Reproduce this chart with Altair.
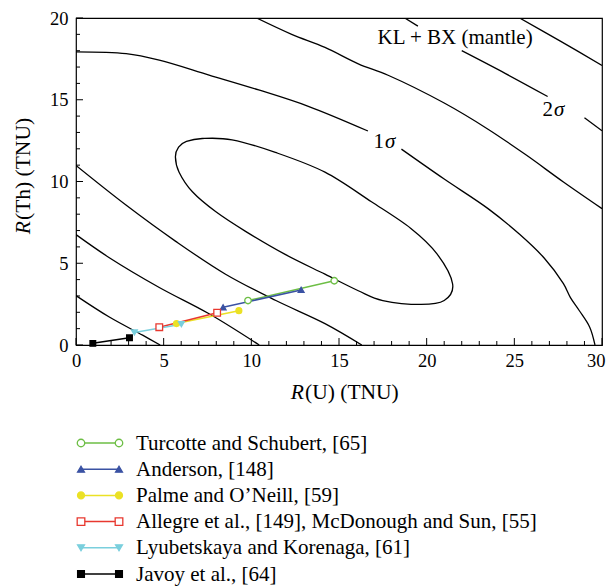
import altair as alt
import pandas as pd

# ---------------- data ----------------
X_MAJOR = [0, 5, 10, 15, 20, 25, 30]
X_MINOR = [1, 2, 3, 4, 6, 7, 8, 9, 11, 12, 13, 14, 16, 17, 18, 19, 21, 22, 23, 24, 26, 27, 28, 29]
Y_MAJOR = [0, 5, 10, 15, 20]
Y_MINOR = [1, 2, 3, 4, 6, 7, 8, 9, 11, 12, 13, 14, 16, 17, 18, 19]

# inner closed contour
ELLIPSE_U = [5.67, 5.85, 6.3, 7.2, 8.9, 11.37, 14.2, 16.85, 19.1, 20.6, 21.48, 21.0, 19.69, 17.5, 16.1, 14.2, 11.93, 9.67, 7.96, 6.64, 5.88]
ELLIPSE_TH = [11.5, 12.1, 12.45, 12.63, 12.55, 11.78, 10.57, 8.76, 7.13, 5.56, 3.73, 2.72, 2.48, 2.72, 3.32, 4.33, 5.54, 6.95, 8.16, 9.37, 10.57]

# open contour pieces (gaps where labels sit)
S1_UP_A_U = [0.0, 2.86, 4.75, 7.59, 10.42, 13.25, 16.65]
S1_UP_A_TH = [17.93, 17.82, 17.42, 16.51, 15.6, 14.6, 13.09]
S1_UP_B_U = [18.56, 21.0, 23.5, 25.3, 26.7, 27.8, 28.2, 28.7, 29.3, 29.6]
S1_UP_B_TH = [11.98, 10.15, 8.34, 6.77, 5.32, 3.75, 2.9, 2.11, 1.09, 0.0]
S1_LOW_U = [0.0, 2.85, 5.69, 8.53, 11.4, 14.2, 16.3]
S1_LOW_TH = [10.98, 8.56, 6.34, 4.33, 2.72, 1.31, 0.0]
C3_U = [10.3, 12.3, 14.2, 16.1, 17.8, 21.0, 23.5, 25.7, 27.8, 30.0]
C3_TH = [20.0, 19.0, 18.2, 17.2, 16.5, 14.8, 13.2, 11.6, 9.97, 8.34]
L2_U = [0.0, 1.9, 4.75, 7.59, 10.45]
L2_TH = [6.75, 5.34, 3.52, 1.91, 0.0]
S2_A_U = [18.75, 19.5]
S2_A_TH = [20.0, 19.5]
S2_B_U = [22.0, 24.5, 26.9]
S2_B_TH = [18.0, 16.6, 15.2]
S2_C_U = [29.0, 30.0]
S2_C_TH = [13.9, 13.1]
L3_U = [0.0, 1.9, 3.8, 4.8]
L3_TH = [3.02, 1.71, 0.6, 0.0]
C5_U = [25.3, 27.6, 30.0]
C5_TH = [20.0, 18.6, 17.1]

MODEL_NAMES = [
    "Turcotte and Schubert, [65]",
    "Anderson, [148]",
    "Palme and O\u2019Neill, [59]",
    "Allegre et al., [149], McDonough and Sun, [55]",
    "Lyubetskaya and Korenaga, [61]",
    "Javoy et al., [64]",
]
MODEL_U_LOW = [9.81, 8.39, 5.73, 4.75, 3.33, 0.96]
MODEL_TH_LOW = [2.72, 2.31, 1.31, 1.09, 0.77, 0.10]
MODEL_U_HIGH = [14.73, 12.84, 9.29, 8.05, 6.01, 3.05]
MODEL_TH_HIGH = [3.93, 3.37, 2.10, 1.97, 1.27, 0.44]

ANNOT_TEXT = ["KL + BX (mantle)"]
ANNOT_U = [21.62]
ANNOT_TH = [18.39]
SIGMA_DIGITS = ["1", "2"]
SIGMA_U = [17.57, 27.2]
SIGMA_TH = [12.02, 14.02]

X_TITLE = ["R", "(U) (TNU)"]
Y_TITLE = ["R", "(Th) (TNU)"]

# ---------------- style ----------------
FONT = "Liberation Serif"
STYLE = {
    MODEL_NAMES[0]: ("#6dbe45", "circle", "white", 42),
    MODEL_NAMES[1]: ("#3a52a3", "triangle-up", "#3a52a3", 34),
    MODEL_NAMES[2]: ("#ebe125", "circle", "#ebe125", 34),
    MODEL_NAMES[3]: ("#e8382f", "square", "white", 44),
    MODEL_NAMES[4]: ("#7acfdd", "triangle-down", "#7acfdd", 34),
    MODEL_NAMES[5]: ("#000000", "square", "#000000", 32),
}
W, H = 526, 327
TITLE_FS = 21.5
LAST_X = X_MAJOR[-1]

# ---------------- tables ----------------
def seg_rows(sid, us, ths):
    return [{"seg": sid, "i": k, "u": u, "th": t} for k, (u, t) in enumerate(zip(us, ths))]

open_rows = []
for sid, us, ths in [
    ("s1a", S1_UP_A_U, S1_UP_A_TH), ("s1b", S1_UP_B_U, S1_UP_B_TH), ("s1l", S1_LOW_U, S1_LOW_TH),
    ("c3", C3_U, C3_TH), ("l2", L2_U, L2_TH), ("s2a", S2_A_U, S2_A_TH), ("s2b", S2_B_U, S2_B_TH),
    ("s2c", S2_C_U, S2_C_TH), ("l3", L3_U, L3_TH), ("c5", C5_U, C5_TH),
]:
    open_rows += seg_rows(sid, us, ths)
df_open = pd.DataFrame(open_rows)
df_ell = pd.DataFrame(seg_rows("ell", ELLIPSE_U, ELLIPSE_TH))

model_rows = []
for n, ul, tl, uh, th in zip(MODEL_NAMES, MODEL_U_LOW, MODEL_TH_LOW, MODEL_U_HIGH, MODEL_TH_HIGH):
    c, s, f, z = STYLE[n]
    for u, t in [(ul, tl), (uh, th)]:
        model_rows.append({"name": n, "u": u, "th": t, "color": c, "shape": s, "fill": f, "size": z})
df_m = pd.DataFrame(model_rows)
df_leg = pd.DataFrame([{"name": n, "color": STYLE[n][0], "shape": STYLE[n][1],
                        "fill": STYLE[n][2], "size": STYLE[n][3] + 14} for n in MODEL_NAMES])

xs = alt.Scale(domain=[0, 30], nice=False, zero=False)
ys = alt.Scale(domain=[0, 20], nice=False, zero=False)

x_axis = alt.Axis(values=X_MAJOR, ticks=False, domain=False, grid=False, title="",
                  labelFont=FONT, labelFontSize=18.5, labelColor="black", labelPadding=6,
                  labelFlush=False,
                  labelAlign={"condition": {"test": f"datum.value == {LAST_X}", "value": "right"}, "value": "center"},
                  labelOffset={"condition": {"test": f"datum.value == {LAST_X}", "value": 3}, "value": 0})
y_axis = alt.Axis(values=Y_MAJOR, ticks=False, domain=False, grid=False, title="",
                  labelFont=FONT, labelFontSize=18.5, labelColor="black", labelPadding=8,
                  labelFlush=False)

def X(field):
    return alt.X(field, scale=xs, axis=x_axis)

def Y(field):
    return alt.Y(field, scale=ys, axis=y_axis)

contours = alt.Chart(df_open).mark_line(color="black", strokeWidth=1.3, interpolate="catmull-rom", clip=True).encode(
    x=X("u:Q"), y=Y("th:Q"), detail="seg:N", order="i:Q",
)
ellipse = alt.Chart(df_ell).mark_line(color="black", strokeWidth=1.3, interpolate="cardinal-closed").encode(
    x=X("u:Q"), y=Y("th:Q"), order="i:Q"
)

model_lines = alt.Chart(df_m).mark_line(strokeWidth=1.5).encode(
    x=X("u:Q"), y=Y("th:Q"),
    color=alt.Color("color:N", scale=None), detail="name:N",
)
model_pts = alt.Chart(df_m).mark_point(filled=True, opacity=1, strokeWidth=1.3).encode(
    x=X("u:Q"), y=Y("th:Q"),
    shape=alt.Shape("shape:N", scale=None), fill=alt.Fill("fill:N", scale=None),
    stroke=alt.Stroke("color:N", scale=None), size=alt.Size("size:Q", scale=None),
)

def xticks(vals, L):
    return alt.Chart(pd.DataFrame({"v": vals})).mark_rule(color="black", strokeWidth=1).encode(
        x=X("v:Q"), y=alt.value(H), y2=alt.value(H - L))

def yticks(vals, L):
    return alt.Chart(pd.DataFrame({"v": vals})).mark_rule(color="black", strokeWidth=1).encode(
        y=Y("v:Q"), x=alt.value(0), x2=alt.value(L))

annot = alt.Chart(pd.DataFrame({"t": ANNOT_TEXT, "u": ANNOT_U, "th": ANNOT_TH})).mark_text(
    font=FONT, fontSize=21, align="center", baseline="alphabetic", color="black").encode(
    x=X("u:Q"), y=Y("th:Q"), text="t:N")
sig_df = pd.DataFrame({"d": SIGMA_DIGITS, "s": ["\u03c3", "\u03c3"], "u": SIGMA_U, "th": SIGMA_TH})
sig_d = alt.Chart(sig_df).mark_text(font=FONT, fontSize=21, align="right", baseline="alphabetic", color="black").encode(
    x=X("u:Q"), y=Y("th:Q"), text="d:N")
sig_s = alt.Chart(sig_df).mark_text(font=FONT, fontSize=21, fontStyle="italic", align="left", baseline="alphabetic",
                                    color="black", dx=1).encode(
    x=X("u:Q"), y=Y("th:Q"), text="s:N")

xt_df = pd.DataFrame({"a": [X_TITLE[0]], "b": [X_TITLE[1]]})
xt_r = alt.Chart(xt_df).mark_text(font=FONT, fontSize=TITLE_FS, fontStyle="italic", align="right",
                                  baseline="alphabetic", color="black").encode(
    text="a:N", x=alt.value(228), y=alt.value(H + 53.5))
xt_rest = alt.Chart(xt_df).mark_text(font=FONT, fontSize=TITLE_FS, align="left", baseline="alphabetic",
                                     color="black", dx=1).encode(
    text="b:N", x=alt.value(228), y=alt.value(H + 53.5))
yt_df = pd.DataFrame({"a": [Y_TITLE[0]], "b": [Y_TITLE[1]]})
yt_r = alt.Chart(yt_df).mark_text(font=FONT, fontSize=TITLE_FS, fontStyle="italic", align="right", angle=270,
                                  baseline="alphabetic", color="black").encode(
    text="a:N", x=alt.value(-46), y=alt.value(203))
yt_rest = alt.Chart(yt_df).mark_text(font=FONT, fontSize=TITLE_FS, align="left", angle=270,
                                     baseline="alphabetic", color="black").encode(
    text="b:N", x=alt.value(-46), y=alt.value(202))

main = alt.layer(
    contours, ellipse,
    xticks(X_MAJOR, 7), xticks(X_MINOR, 4), yticks(Y_MAJOR, 7), yticks(Y_MINOR, 4),
    model_lines, model_pts, annot, sig_d, sig_s, xt_r, xt_rest, yt_r, yt_rest,
).properties(width=W, height=H)

# ---------------- legend panel ----------------
LH = 150
ly = alt.Scale(type="point", domain=MODEL_NAMES, range=[13, 13 + 5 * 26.2], padding=0)
leg_base = alt.Chart(df_leg)
leg_line = leg_base.mark_rule(strokeWidth=1.5).encode(
    y=alt.Y("name:N", scale=ly, axis=None), x=alt.value(5), x2=alt.value(43),
    color=alt.Color("color:N", scale=None))
def leg_pt(px):
    return leg_base.mark_point(filled=True, opacity=1, strokeWidth=1.3).encode(
        y=alt.Y("name:N", scale=ly, axis=None), x=alt.value(px),
        shape=alt.Shape("shape:N", scale=None), fill=alt.Fill("fill:N", scale=None),
        stroke=alt.Stroke("color:N", scale=None), size=alt.Size("size:Q", scale=None))
leg_txt = leg_base.mark_text(font=FONT, fontSize=21, align="left", baseline="alphabetic", dy=6.5, color="black").encode(
    y=alt.Y("name:N", scale=ly, axis=None), x=alt.value(60), text="name:N")
legend = alt.layer(leg_line, leg_pt(5), leg_pt(43), leg_txt, view=alt.ViewBackground(stroke="transparent")).properties(
    width=W, height=LH)

chart = alt.vconcat(main, legend, spacing=25).properties(
    padding={"left": 4, "top": 0, "right": 0, "bottom": 0}, background="white"
).configure_view(stroke="black", strokeWidth=1.2)

chart.save("out.html", embed_options={"renderer": "svg", "actions": False})
